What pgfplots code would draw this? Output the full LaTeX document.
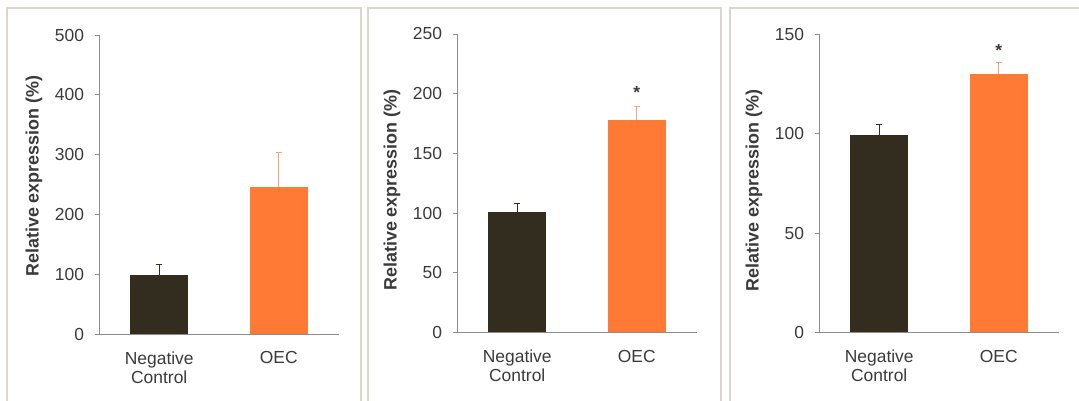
\documentclass[border=0pt]{standalone}
\usepackage{pgfplots}
\pgfplotsset{compat=1.18}
\usepackage{fontspec}
\setmainfont{Liberation Sans}
\definecolor{darkbar}{HTML}{332D20}
\definecolor{orangebar}{HTML}{FF7A35}
\definecolor{orangeerr}{HTML}{F4A37D}
\definecolor{boxgray}{HTML}{DAD6CB}
\definecolor{axgray}{HTML}{8C8C8C}
\definecolor{txt}{HTML}{3A3A3A}
\tikzset{sigstar/.style={font=\fontsize{17.5}{19}\selectfont\bfseries, text=txt, anchor=base}}
\pgfplotsset{
  panel/.style={
    scale only axis, width=239bp, anchor=south west,
    xmin=-0.5, xmax=1.5, ymin=0,
    axis x line*=bottom, axis y line*=left,
    axis line style={axgray, line width=0.8bp},
    xtick={0,1}, xticklabels={{Negative\\Control},{OEC}},
    x tick style={draw=none},
    y tick style={axgray, line width=0.8bp},
    tick align=outside, major tick length=5bp,
    /pgf/number format/assume math mode=true,
    tick label style={font=\fontsize{17.5}{19}\selectfont, text=txt},
    xticklabel style={align=center, yshift=-9bp},
    yticklabel style={xshift=-7bp, anchor=east},
    ylabel={\bfseries Relative expression (\%)},
    ylabel style={font=\fontsize{18}{20}\selectfont, text=txt, anchor=center},
    bar width=58bp, bar shift=0pt,
  },
  negbar/.style={ybar, fill=darkbar, draw=none,
    error bars/.cd, y dir=plus, y explicit,
    error bar style={darkbar, line width=0.9bp},
    error mark options={rotate=90, mark size=3bp, darkbar, line width=0.9bp}},
  oecbar/.style={ybar, fill=orangebar, draw=none,
    error bars/.cd, y dir=plus, y explicit,
    error bar style={orangeerr, line width=0.9bp},
    error mark options={rotate=90, mark size=3bp, orangeerr, line width=0.9bp}},
}
\begin{document}
\begin{tikzpicture}
\path[use as bounding box] (0,0) rectangle (1079bp,401bp);
\draw[boxgray, line width=1.5bp] (7bp,-20bp) rectangle (361bp,393bp);
\draw[boxgray, line width=1.5bp] (368bp,-20bp) rectangle (721bp,393bp);
\draw[boxgray, line width=1.5bp] (730bp,-20bp) rectangle (1100bp,393bp);

\begin{axis}[panel, at={(99.5bp,67bp)}, height=299bp, ymax=500,
  ytick={0,100,200,300,400,500}, yticklabels={0,100,200,300,400,500},
  ylabel style={at={(axis description cs:-0.274,0.528)}}]
\addplot[negbar] coordinates {(0,99) +- (0,18)};
\addplot[oecbar] coordinates {(1,246) +- (0,57)};
\end{axis}

\begin{axis}[panel, at={(457.5bp,68.5bp)}, height=298.5bp, ymax=250,
  ytick={0,50,100,150,200,250}, yticklabels={0,50,100,150,200,250},
  ylabel style={at={(axis description cs:-0.274,0.477)}}]
\addplot[negbar] coordinates {(0,100.6) +- (0,7.8)};
\addplot[oecbar] coordinates {(1,178) +- (0,11.7)};
\node[sigstar] at (axis cs:1,195.7) {*};
\end{axis}

\begin{axis}[panel, at={(819.5bp,68.5bp)}, height=298bp, ymax=150,
  ytick={0,50,100,150}, yticklabels={0,50,100,150},
  ylabel style={at={(axis description cs:-0.274,0.477)}}]
\addplot[negbar] coordinates {(0,99.5) +- (0,5.2)};
\addplot[oecbar] coordinates {(1,130.3) +- (0,5.8)};
\node[sigstar] at (axis cs:1,138.9) {*};
\end{axis}
\end{tikzpicture}
\end{document}
